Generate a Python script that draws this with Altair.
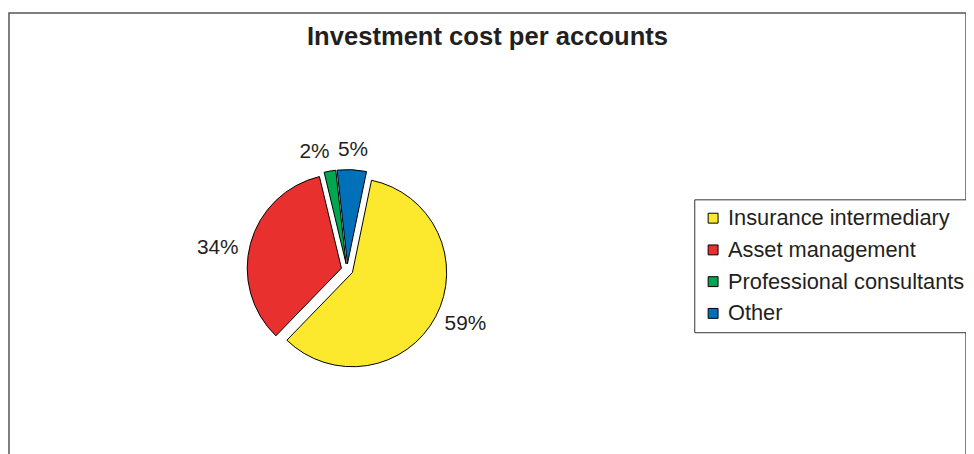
import altair as alt
import pandas as pd

# ---- data ----
categories = ["Insurance intermediary", "Asset management", "Professional consultants", "Other"]
shares = [59, 34, 2, 5]
labels = ["59%", "34%", "2%", "5%"]
colors = ["#FCE82C", "#E8302E", "#00A650", "#0070B9"]

df = pd.DataFrame({
    "category": categories,
    "share": shares,
    "label": labels,
    "order": list(range(len(categories))),
})

# ---- layout / style ----
W, H = 965, 460
CX, CY = 341, 259          # pie centre inside the frame
R = 95                     # pie radius
EXPLODE = 6                # explosion distance
START = 0.204              # first slice angle (rad)
TXT = "#231f20"
FONT = "Liberation Sans"

theta_scale = alt.Scale(domain=[0, 100], range=[START, START + 6.283185307179586])
x_scale = alt.Scale(domain=[-CX, W - CX], range=[0, W])
y_scale = alt.Scale(domain=[-CY, H - CY], range=[0, H])

base = (
    alt.Chart(df)
    .transform_joinaggregate(total="sum(share)")
    .transform_window(cum="sum(share)", sort=[alt.SortField("order")], frame=[None, 0])
    .transform_calculate(midpct="100*(datum.cum - datum.share/2)/datum.total")
    .transform_calculate(mid=f"{START} + 2*PI*datum.midpct/100")
    .transform_calculate(ex=f"{EXPLODE}*sin(datum.mid)", ey=f"-{EXPLODE}*cos(datum.mid)")
)

xenc = alt.X("ex:Q", scale=x_scale, axis=None)
yenc = alt.Y("ey:Q", scale=y_scale, axis=None)

pie = base.mark_arc(outerRadius=R, stroke="black", strokeWidth=1).encode(
    x=xenc,
    y=yenc,
    theta=alt.Theta("share:Q", stack=True, scale=theta_scale),
    order=alt.Order("order:Q"),
    color=alt.Color(
        "category:N",
        scale=alt.Scale(domain=categories, range=colors),
        sort=categories,
        legend=alt.Legend(
            orient="none", legendX=691, legendY=188, title=None,
            symbolType="square", symbolSize=100,
            symbolStrokeColor="black", symbolStrokeWidth=1,
            labelFont=FONT, labelFontSize=22, labelColor=TXT,
            labelOffset=4, labelLimit=400,
            strokeColor="#333333", fillColor="white",
            padding=8, rowPadding=10,
        ),
    ),
)

def label_layer(cond, dx, dy):
    return base.transform_filter(cond).mark_text(
        radius=121, font=FONT, fontSize=21, color=TXT, dx=dx, dy=dy
    ).encode(
        x=xenc,
        y=yenc,
        theta=alt.Theta("midpct:Q", stack=None, scale=theta_scale),
        text="label:N",
    )

# Excel-like outside-end placement: offsets depend on the side of the pie
side_left = label_layer("sin(datum.mid) < 0 && cos(datum.mid) <= 0.9", -8, 12)
side_right = label_layer("sin(datum.mid) >= 0 && cos(datum.mid) <= 0.9", 7, -5)
top_left = label_layer("sin(datum.mid) < 0 && cos(datum.mid) > 0.9", -11, 6)
top_right = label_layer("sin(datum.mid) >= 0 && cos(datum.mid) > 0.9", 0, 6)

chart = (
    alt.layer(pie, side_left, side_right, top_left, top_right)
    .properties(
        width=W,
        height=H,
        autosize="none",
        padding={"left": 1, "top": 3, "right": 0, "bottom": 0},
        title=alt.TitleParams(
            "Investment cost per accounts",
            font=FONT, fontSize=25.8, fontWeight="bold", color=TXT,
            anchor="middle", offset=-38,
        ),
    )
    .configure_view(stroke="#555555", strokeWidth=1.5)
)

chart.save("out.html", embed_options={"renderer": "svg", "actions": False})
